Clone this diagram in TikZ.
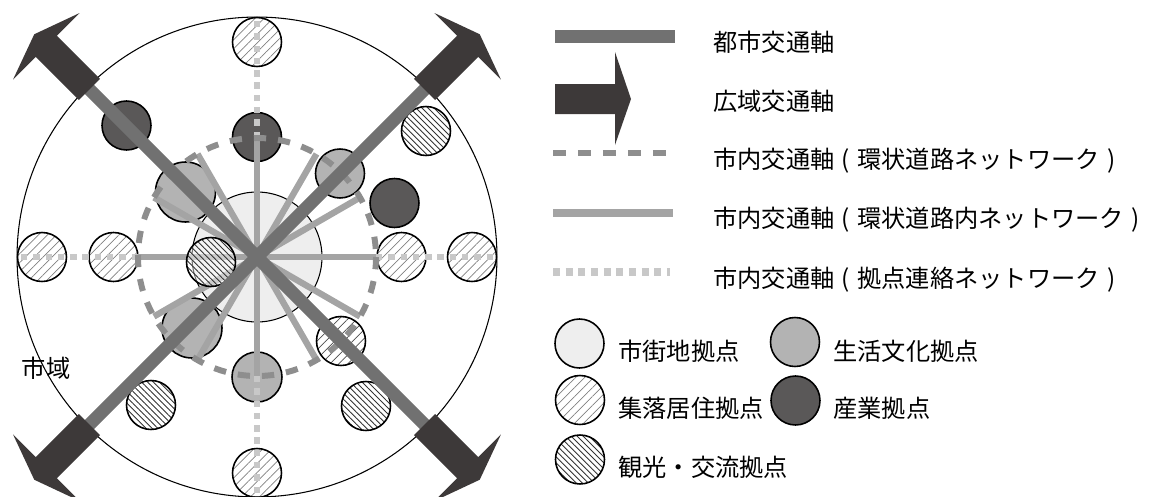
\documentclass[tikz,border=0pt]{standalone}
\usepackage{fontspec}
\setmainfont{Noto Sans CJK JP}
\usetikzlibrary{patterns.meta}
\definecolor{axisgray}{HTML}{717171}
\definecolor{arrowdark}{HTML}{3D3939}
\definecolor{inddark}{HTML}{5A5858}
\definecolor{lifegray}{HTML}{B3B3B3}
\definecolor{townlight}{HTML}{EEEEEE}
\definecolor{ringgray}{HTML}{8E8E8E}
\definecolor{spokegray}{HTML}{A4A4A4}
\definecolor{dotgray}{HTML}{C8C8C8}
\newcommand{\lp}{\kern0.3em(\kern0.3em}
\newcommand{\rp}{\kern0.3em)}
\begin{document}
\begin{tikzpicture}[x=0.02cm,y=-0.02cm,
  hub/.style={circle,draw=black,line width=0.9pt,inner sep=0pt,minimum size=0.98cm},
  town/.style={hub,fill=townlight,line width=0.6pt},
  life/.style={hub,fill=lifegray},
  ind/.style={hub,fill=inddark},
  village/.style={hub,pattern={Lines[angle=45,distance=3.6pt,line width=0.4pt]},pattern color=black!50},
  tour/.style={hub,pattern={Lines[angle=-45,distance=2.4pt,line width=0.5pt]},pattern color=black!80},
  big/.style={minimum size=1.2cm},
  cityaxis/.style={draw=axisgray,line width=7.4pt},
  ringdash/.style={draw=ringgray,line width=3.4pt,dash pattern=on 7pt off 6.8pt},
  spoke/.style={draw=spokegray,line width=3.6pt},
  linkdot/.style={draw=dotgray,line width=3.6pt,dash pattern=on 3.6pt off 3.4pt},
  widearrow/.style={fill=arrowdark},
  lbl/.style={font=\fontsize{13.8pt}{16pt}\selectfont,inner sep=0pt,anchor=west}
]
\useasboundingbox (0,0) rectangle (1164,497);

% city area
\node[draw,circle,line width=0.6pt,inner sep=0pt,minimum size=9.6cm] (area) at (257,257) {};
\node[font=\fontsize{13.8pt}{16pt}\selectfont,inner sep=0pt] (areatxt) at (46,368) {市域};

% central town hub
\node[town,minimum size=2.6cm] (c) at (257,257) {};

% hubs
\node[village] (t1) at (257,42) {};
\node[ind] (t2) at (257,137) {};
\node[ind] (ul1) at (126.5,125.5) {};
\node[life,big] (ul2) at (185.5,192) {};
\node[tour] (ur1) at (426,131) {};
\node[life] (ur2) at (340,173.5) {};
\node[ind] (r1) at (394.5,203) {};
\node[village] (r2) at (401.5,257) {};
\node[village] (r3) at (472,257) {};
\node[village] (l1) at (42,257) {};
\node[village] (l2) at (113.5,257) {};
\node[life,big] (ll1) at (192,328) {};
\node[life,minimum size=1.0cm] (b1) at (257,377) {};
\node[village,pattern color=black!70] (lr1) at (341,341) {};
\node[tour] (lr2) at (366,406) {};
\node[tour] (ll2) at (151,405) {};
\node[village] (b2) at (257,473) {};

% coordinates on ring and outer circle
\foreach \a in {0,30,...,330} {
  \path (c.center) ++(\a:119) coordinate (s\a);
}
\foreach \a in {0,90,180,270} {
  \path (c.center) ++(\a:240) coordinate (o\a);
}
\coordinate (dUL) at (87.3,87.3);
\coordinate (dUR) at (426.7,87.3);
\coordinate (dLL) at (87.3,426.7);
\coordinate (dLR) at (426.7,426.7);

% hub link network (dotted)
\foreach \a in {0,90,180,270} {
  \draw[linkdot] (s\a) -- (o\a);
}
% inner network spokes
\foreach \a in {0,30,...,330} {
  \draw[spoke] (c.center) -- (s\a);
}
% ring road
\draw[ringdash] (c.center) circle (119);

% hatched hub over the spokes
\node[tour,preaction={fill=white,fill opacity=0.45}] (cl) at (211,262) {};

% city traffic axes
\draw[cityaxis] (dUL) -- (dLR);
\draw[cityaxis] (dUR) -- (dLL);

% wide-area traffic arrows
\foreach \r in {45,135,225,315} {
  \begin{scope}[shift={(257,257)},rotate=\r]
    \fill[widearrow] (237,15) -- (298,15) -- (298,47) -- (315,0) -- (298,-47) -- (298,-15) -- (237,-15) -- cycle;
  \end{scope}
}

% ---------- legend ----------
\coordinate (k1a) at (555,36.5); \coordinate (k1b) at (675,36.5);
\draw[cityaxis] (k1a) -- (k1b);
\node[lbl] (k1t) at (713,42) {都市交通軸};

\fill[widearrow] (555,84) -- (615,84) -- (615,52) -- (631,99) -- (615,145) -- (615,114) -- (555,114) -- cycle;
\node[lbl] (k2t) at (713,101) {広域交通軸};

\coordinate (k3a) at (553,153); \coordinate (k3b) at (667,153);
\draw[ringdash,dash pattern=on 7.4pt off 6.8pt] (k3a) -- (k3b);
\node[lbl] (k3t) at (713,161) {市内交通軸\lp 環状道路ネットワーク\rp};

\coordinate (k4a) at (553,213); \coordinate (k4b) at (673,213);
\draw[spoke,line width=4pt] (k4a) -- (k4b);
\node[lbl] (k4t) at (713,220) {市内交通軸\lp 環状道路内ネットワーク\rp};

\coordinate (k5a) at (553,272); \coordinate (k5b) at (670,272);
\draw[linkdot,line width=4pt,dash pattern=on 4pt off 3.2pt] (k5a) -- (k5b);
\node[lbl] (k5t) at (713,280) {市内交通軸\lp 拠点連絡ネットワーク\rp};

\node[town,line width=0.9pt] (g1) at (579.5,343.5) {};
\node[lbl] (g1t) at (618,351) {市街地拠点};
\node[life] (g2) at (795,342) {};
\node[lbl] (g2t) at (833,351) {生活文化拠点};
\node[village] (g3) at (580,400) {};
\node[lbl] (g3t) at (618,408) {集落居住拠点};
\node[ind] (g4) at (795.5,400.5) {};
\node[lbl] (g4t) at (833,408) {産業拠点};
\node[tour] (g5) at (580,459.5) {};
\node[lbl] (g5t) at (618,467) {観光・交流拠点};
\end{tikzpicture}
\end{document}
